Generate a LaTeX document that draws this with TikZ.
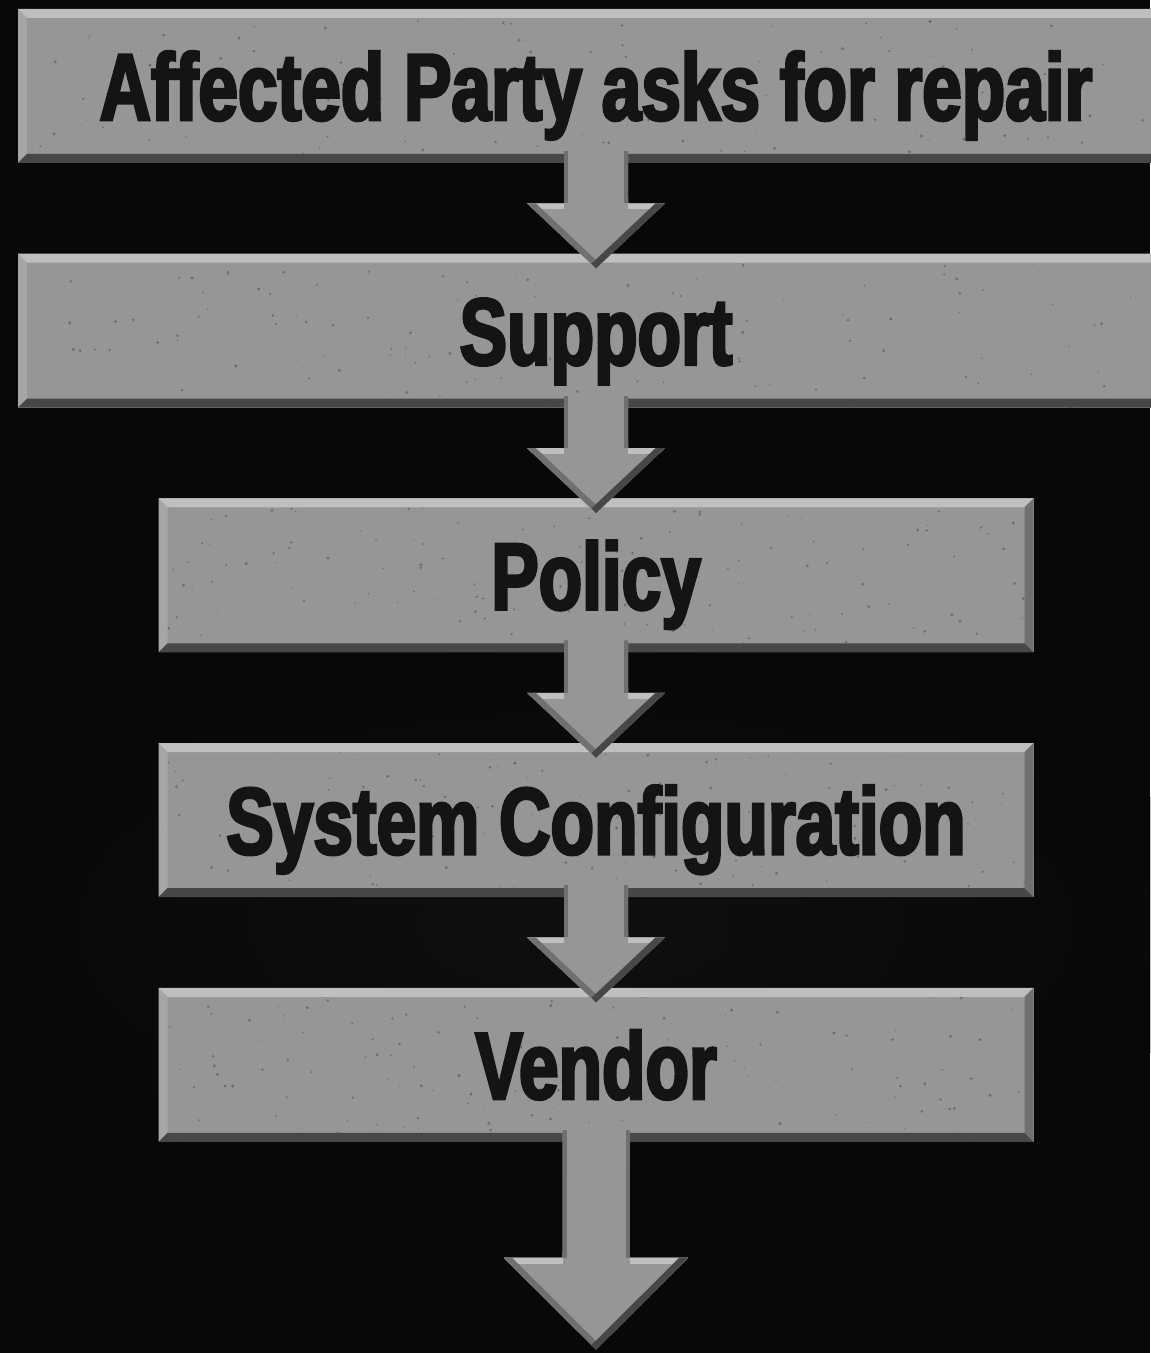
\documentclass[tikz,border=0pt]{standalone}
\usepackage{fontspec}
\newfontfamily\slabfont[FakeStretch=0.75, BoldFeatures={FakeBold=3}]{Liberation Sans}
\usepackage{tikz}
\usetikzlibrary{positioning,calc}

\definecolor{slabface}{gray}{0.59}
\definecolor{slabtop}{gray}{0.75}
\definecolor{slableft}{gray}{0.65}
\definecolor{slabedge}{gray}{0.44}
\definecolor{slabbottom}{gray}{0.28}
\definecolor{slabink}{gray}{0.08}

\newcommand{\slabbevel}{0.18cm}

% block arrow from the bottom of one slab into the top of the next
% #1 from, #2 to, #3 half shaft, #4 half head, #5 head length, #6 overlap at the tip
\newcommand{\linkarrow}[6]{%
  \coordinate (tip) at ([yshift=-#6]#2.north);
  \coordinate (root) at ([yshift=0.25cm]#1.south);
  \coordinate (p1) at ($(root)+(-#3,0)$);
  \coordinate (p2) at ($(tip)+(-#3,#5)$);
  \coordinate (p3) at ($(tip)+(-#4,#5)$);
  \coordinate (p5) at ($(tip)+(#4,#5)$);
  \coordinate (p6) at ($(tip)+(#3,#5)$);
  \coordinate (p7) at ($(root)+(#3,0)$);
  \fill[slabface] (p1) -- (p2) -- (p3) -- (tip) -- (p5) -- (p6) -- (p7) -- cycle;
  \begin{scope}
    \clip (p1) -- (p2) -- (p3) -- (tip) -- (p5) -- (p6) -- (p7) -- cycle;
    \draw[line width=0.24cm, slabtop] (p3) -- (p2) (p6) -- (p5);
    \draw[line width=0.24cm, slabedge] (p3) -- (tip);
    \draw[line width=0.26cm, slabbottom] (tip) -- (p5);
    \draw[line width=0.16cm, slabedge] (p1) -- (p2) (p7) -- (p6);
  \end{scope}}

\tikzset{
  slab/.style={rectangle, fill=slabface, inner sep=0pt, minimum height=3.08cm,
    text=slabink, font={\fontsize{54}{54}\slabfont\bfseries},
    text height=1.36cm, text depth=0pt,
    path picture={
      \coordinate (ne) at (path picture bounding box.north east);
      \coordinate (sw) at (path picture bounding box.south west);
      % stone grain
      \foreach \k in {1,...,140}
        \fill[slabink, opacity=0.3] ($(sw)!{rnd}!(sw -| ne)+(0,{3.08*rnd})$)
          circle ({0.01+0.025*rnd});
      % bevelled rim
      \fill[slabtop] (sw |- ne) -- (ne) -- ++(-\slabbevel,-\slabbevel)
        -- ($(sw |- ne)+(\slabbevel,-\slabbevel)$) -- cycle;
      \fill[slableft] (sw |- ne) -- ++(\slabbevel,-\slabbevel)
        -- ($(sw)+(\slabbevel,\slabbevel)$) -- (sw) -- cycle;
      \fill[slabedge] (ne) -- ++(-\slabbevel,-\slabbevel)
        -- ($(sw -| ne)+(-\slabbevel,\slabbevel)$) -- (sw -| ne) -- cycle;
      \fill[slabbottom] (sw) -- (sw -| ne) -- ++(-\slabbevel,\slabbevel)
        -- ($(sw)+(\slabbevel,\slabbevel)$) -- cycle;
    }},
}

\begin{document}
\begin{tikzpicture}[node distance=1.8cm]
  \pgfmathsetseed{7}
  \useasboundingbox (0,0) rectangle (23,-27.06);
  % backdrop
  \fill[black!97] (0,0) rectangle (23,-27.06);
  \begin{scope}
    \clip (0,0) rectangle (23,-27.06);
    \fill[inner color=white!6!black, outer color=black!97] (11.5,-18.5) ellipse (13 and 5.5);
  \end{scope}

  % slabs
  \node[slab, minimum width=23.12cm] (ask) at (11.92,-1.72) {Affected Party asks for repair};
  \node[slab, minimum width=23.12cm, below=of ask] (support) {Support};
  \node[slab, minimum width=17.5cm, below=of support] (policy) {Policy};
  \node[slab, minimum width=17.5cm, below=of policy] (config) {System Configuration};
  \node[slab, minimum width=17.5cm, below=of config] (vendor) {Vendor};
  \node[inner sep=0pt, minimum size=0pt] (outlet) at (11.92,-27.0) {};

  % arrows
  \linkarrow{ask}{support}{0.64cm}{1.38cm}{1.3cm}{0.3cm}
  \linkarrow{support}{policy}{0.64cm}{1.38cm}{1.3cm}{0.3cm}
  \linkarrow{policy}{config}{0.64cm}{1.38cm}{1.3cm}{0.3cm}
  \linkarrow{config}{vendor}{0.64cm}{1.38cm}{1.3cm}{0.3cm}
  \linkarrow{vendor}{outlet}{0.67cm}{1.85cm}{1.84cm}{0cm}
\end{tikzpicture}
\end{document}
